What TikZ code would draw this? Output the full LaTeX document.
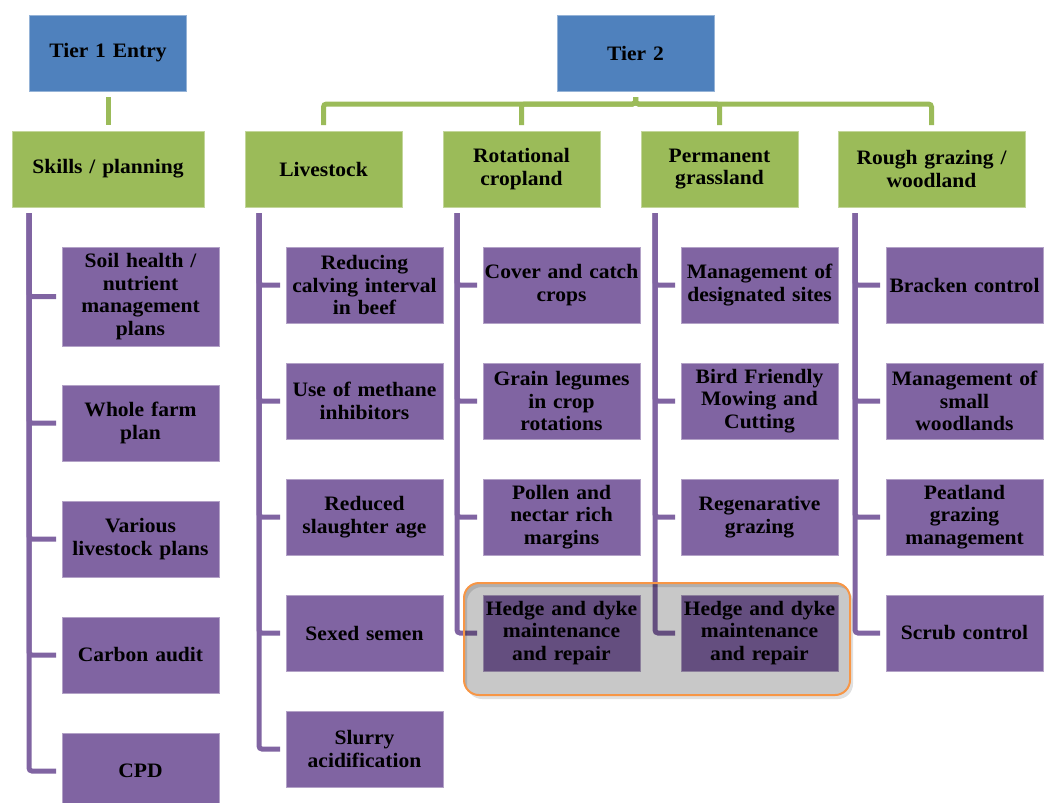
\documentclass[tikz,border=0pt]{standalone}
\usepackage{fontspec}
\setmainfont{Liberation Serif}[FakeStretch=1.05]
\usetikzlibrary{positioning}

\definecolor{tierblue}{HTML}{4F81BD}
\definecolor{catgreen}{HTML}{9BBB59}
\definecolor{itempurple}{HTML}{8064A2}
\definecolor{hlgray}{HTML}{C8C8C8}
\definecolor{hlorange}{HTML}{F79646}

\tikzset{
  box/.style={rectangle, text width=157pt, minimum height=76pt, inner xsep=0pt,
    inner ysep=2pt, outer sep=0pt, align=center,
    font=\fontsize{20.5}{22.5}\selectfont\bfseries},
  tierbox/.style={box, fill=tierblue, draw=tierblue!60!white, line width=0.8pt},
  catbox/.style={box, fill=catgreen, draw=catgreen!60!white, line width=0.8pt},
  itembox/.style={box, fill=itempurple, draw=itempurple!60!white, line width=0.8pt},
  greenline/.style={catgreen, line width=5pt, rounded corners=3pt,
    shorten <=6pt, shorten >=6pt},
  purpleline/.style={itempurple, line width=5pt, rounded corners=3pt,
    shorten <=6pt, shorten >=6pt}
}

\begin{document}
\begin{tikzpicture}[x=1pt, y=-1pt]
  \useasboundingbox (0,0) rectangle (1047,803);

  % tiers
  \node[tierbox] (t1) at (108,53) {Tier 1 Entry};
  \node[tierbox] (t2) at (635.5,53) {Tier 2};

  % categories
  \node[catbox, text width=192pt] (skills) at (108,169) {Skills / planning};
  \node[catbox, right=41pt of skills] (liv) {Livestock};
  \node[catbox, right=41pt of liv] (rot) {Rotational\\cropland};
  \node[catbox, right=41pt of rot] (perm) {Permanent\\grassland};
  \node[catbox, right=40pt of perm, text width=187pt] (rough) {Rough grazing /\\woodland};

  % skills / planning
  \node[itembox, below right=40pt and 50pt of skills.south west, minimum height=99pt] (s1)
    {Soil health /\\nutrient\\management\\plans};
  \node[itembox, below=39pt of s1] (s2) {Whole farm\\plan};
  \node[itembox, below=40pt of s2] (s3) {Various\\livestock plans};
  \node[itembox, below=40pt of s3] (s4) {Carbon audit};
  \node[itembox, below=40pt of s4] (s5) {CPD};

  % livestock
  \node[itembox, below right=40pt and 41pt of liv.south west] (l1)
    {Reducing\\calving interval\\in beef};
  \node[itembox, below=40pt of l1] (l2) {Use of methane\\inhibitors};
  \node[itembox, below=40pt of l2] (l3) {Reduced\\slaughter age};
  \node[itembox, below=40pt of l3] (l4) {Sexed semen};
  \node[itembox, below=40pt of l4] (l5) {Slurry\\acidification};

  % rotational cropland
  \node[itembox, below right=40pt and 40pt of rot.south west] (r1) {Cover and catch\\crops};
  \node[itembox, below=40pt of r1] (r2) {Grain legumes\\in crop\\rotations};
  \node[itembox, below=40pt of r2] (r3) {Pollen and\\nectar rich\\margins};
  \node[itembox, below=40pt of r3] (r4) {Hedge and dyke\\maintenance\\and repair};

  % permanent grassland
  \node[itembox, below right=40pt and 40pt of perm.south west] (p1)
    {Management of\\designated sites};
  \node[itembox, below=40pt of p1] (p2) {Bird Friendly\\Mowing and\\Cutting};
  \node[itembox, below=40pt of p2] (p3) {Regenarative\\grazing};
  \node[itembox, below=40pt of p3] (p4) {Hedge and dyke\\maintenance\\and repair};

  % rough grazing / woodland
  \node[itembox, below right=40pt and 48pt of rough.south west] (g1) {Bracken control};
  \node[itembox, below=40pt of g1] (g2) {Management of\\small\\woodlands};
  \node[itembox, below=40pt of g2] (g3) {Peatland\\grazing\\management};
  \node[itembox, below=40pt of g3] (g4) {Scrub control};

  % green connectors
  \draw[greenline] (t1.south) -- (skills.north);
  \foreach \c in {liv,rot,perm,rough}
    \draw[greenline] (t2.south) -- ++(0,13) -| (\c.north);

  % purple connectors
  \foreach \i in {s1,s2,s3,s4,s5}
    \draw[purpleline] ([xshift=17pt]skills.south west) |- (\i.west);
  \foreach \i in {l1,l2,l3,l4,l5}
    \draw[purpleline] ([xshift=14pt]liv.south west) |- (\i.west);
  \foreach \i in {r1,r2,r3,r4}
    \draw[purpleline] ([xshift=14pt]rot.south west) |- (\i.west);
  \foreach \i in {p1,p2,p3,p4}
    \draw[purpleline] ([xshift=14pt]perm.south west) |- (\i.west);
  \foreach \i in {g1,g2,g3,g4}
    \draw[purpleline] ([xshift=17pt]rough.south west) |- (\i.west);

  % highlight of the hedge items
  \coordinate (hlA) at ([shift={(-19pt,12pt)}]r4.north west);
  \coordinate (hlB) at ([shift={(12pt,-24pt)}]p4.south east);
  \fill[black, opacity=0.12, even odd rule, rounded corners=15pt]
    ([shift={(3pt,-4pt)}]hlA) rectangle ([shift={(3pt,-4pt)}]hlB) (hlA) rectangle (hlB);
  \begin{scope}[blend mode=multiply]
    \fill[hlgray, rounded corners=15pt] (hlA) rectangle (hlB);
  \end{scope}
  \draw[hlorange, line width=2pt, rounded corners=15pt] (hlA) rectangle (hlB);
\end{tikzpicture}
\end{document}
